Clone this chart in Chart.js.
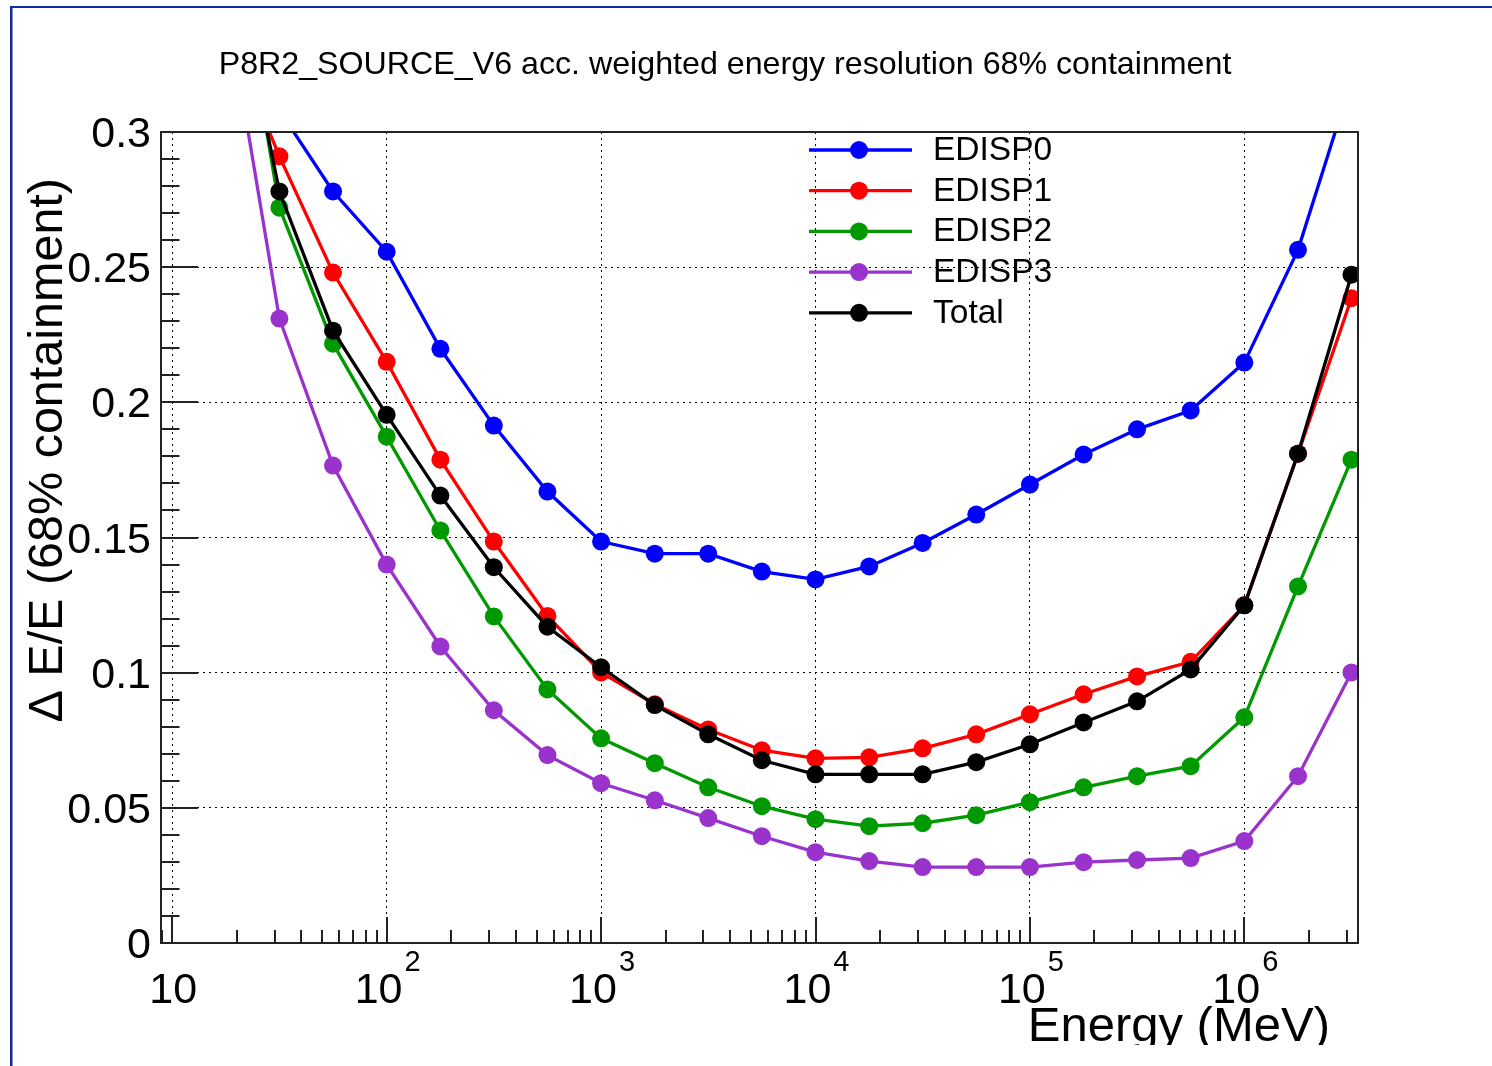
<!DOCTYPE html>
<html><head><meta charset="utf-8">
<script src="https://cdn.jsdelivr.net/npm/chart.js@4/dist/chart.umd.min.js"></script>
<style>html,body{margin:0;padding:0;background:#fff;overflow:hidden}canvas{display:block}</style>
</head><body>
<canvas id="c" width="1492" height="1066"></canvas>
<script>
const chartTitle = "P8R2_SOURCE_V6 acc. weighted energy resolution 68% containment";
const xTitle = "Energy (MeV)";
const yTitle = "\u0394 E/E (68% containment)";

const energies = [17.8, 31.6, 56.2, 100, 178, 316, 562, 1000, 1780, 3160, 5620, 10000,
                  17800, 31600, 56200, 100000, 178000, 316000, 562000, 1000000, 1780000, 3160000];

const seriesNames = ["EDISP0", "EDISP1", "EDISP2", "EDISP3", "Total"];
const edisp0 = [0.36, 0.308, 0.278, 0.2557, 0.2198, 0.1914, 0.167, 0.1485, 0.144, 0.144, 0.1374, 0.1345,
                0.1393, 0.148, 0.1585, 0.1696, 0.1807, 0.190, 0.197, 0.2147, 0.2564, 0.319];
const edisp1 = [0.339, 0.291, 0.248, 0.215, 0.1788, 0.1485, 0.121, 0.1001, 0.0883, 0.079, 0.0713, 0.0683,
                0.0687, 0.072, 0.0772, 0.0846, 0.092, 0.0986, 0.104, 0.1249, 0.181, 0.2385];
const edisp2 = [0.39, 0.272, 0.2217, 0.1873, 0.1526, 0.1208, 0.0938, 0.0757, 0.0665, 0.0576, 0.0506, 0.0458,
                0.0432, 0.0443, 0.0473, 0.0521, 0.0576, 0.0617, 0.0654, 0.0835, 0.1319, 0.1788];
const edisp3 = [0.349, 0.231, 0.1766, 0.140, 0.1097, 0.0861, 0.0695, 0.0591, 0.0528, 0.0462, 0.0395, 0.0336,
                0.0303, 0.0281, 0.0281, 0.0281, 0.0299, 0.0307, 0.0314, 0.0377, 0.0617, 0.1001];
const total  = [0.375, 0.278, 0.2265, 0.1954, 0.1655, 0.139, 0.117, 0.102, 0.088, 0.0772, 0.0676, 0.0624,
                0.0624, 0.0624, 0.0669, 0.0735, 0.0816, 0.0894, 0.1012, 0.1249, 0.181, 0.2472];

const xMajorTicks = [10, 100, 1000, 10000, 100000, 1000000];
const xTickBase = ["10", "10", "10", "10", "10", "10"];
const xTickExp = ["", "2", "3", "4", "5", "6"];
const yTicks = [0, 0.05, 0.1, 0.15, 0.2, 0.25, 0.3];
const yTickLabels = ["0", "0.05", "0.1", "0.15", "0.2", "0.25", "0.3"];

const xMin = 8.86, xMax = 3.39e6, yMin = 0, yMax = 0.3;

const colors = ["#0000ff", "#ff0000", "#009900", "#9933cc", "#000000"];
const drawOrder = [4, 3, 2, 1, 0];
const FONT = "'Liberation Sans', Arial, Helvetica, sans-serif";

const seriesData = [edisp0, edisp1, edisp2, edisp3, total];
const datasets = seriesData.map((vals, i) => ({
  label: seriesNames[i],
  data: energies.map((e, k) => ({x: e, y: vals[k]})),
  borderColor: colors[i],
  backgroundColor: colors[i],
  borderWidth: 3.3,
  pointRadius: 9,
  pointBorderWidth: 0,
  pointBackgroundColor: colors[i],
  pointStyle: 'circle',
  tension: 0,
  clip: 0,
  order: drawOrder[i]
}));

const rootPlugin = {
  id: 'rootStyle',
  beforeDraw(chart) {
    const ctx = chart.ctx;
    ctx.save();
    ctx.fillStyle = '#fff';
    ctx.fillRect(0, 0, chart.width, chart.height);
    ctx.fillStyle = '#1428a0';
    ctx.fillRect(10, 6, chart.width - 10, 2);
    ctx.fillRect(10, 6, 2.5, chart.height - 6);
    ctx.restore();
  },
  afterDatasetsDraw(chart) {
    const ctx = chart.ctx;
    const a = chart.chartArea;
    const xs = chart.scales.x, ys = chart.scales.y;
    ctx.save();
    // frame
    ctx.strokeStyle = '#222';
    ctx.lineWidth = 2;
    ctx.strokeRect(a.left, a.top, a.right - a.left, a.bottom - a.top);
    // ticks
    ctx.beginPath();
    for (let e = 0; e <= 7; e++) {
      for (let m = 1; m < 10; m++) {
        const v = m * Math.pow(10, e);
        if (v < xs.min || v > xs.max) continue;
        const px = Math.round(xs.getPixelForValue(v));
        const len = m === 1 ? 26 : 13;
        ctx.moveTo(px, a.bottom); ctx.lineTo(px, a.bottom - len);
      }
    }
    for (let i = 0; i <= 30; i++) {
      const v = i * 0.01;
      const py = Math.round(ys.getPixelForValue(v));
      const len = i % 5 === 0 ? 37 : 18.5;
      ctx.moveTo(a.left, py); ctx.lineTo(a.left + len, py);
    }
    ctx.stroke();

    // x tick labels
    ctx.fillStyle = '#000';
    ctx.textBaseline = 'alphabetic';
    xMajorTicks.forEach((v, i) => {
      const px = xs.getPixelForValue(v);
      ctx.font = `43px ${FONT}`;
      const w1 = ctx.measureText(xTickBase[i]).width;
      let w2 = 0;
      if (xTickExp[i]) { ctx.font = `29px ${FONT}`; w2 = ctx.measureText(xTickExp[i]).width + 2; }
      const start = px - (w1 + w2) / 2 + 1;
      ctx.font = `43px ${FONT}`;
      ctx.textAlign = 'left';
      ctx.fillText(xTickBase[i], start, 1003);
      if (xTickExp[i]) { ctx.font = `29px ${FONT}`; ctx.fillText(xTickExp[i], start + w1 + 2, 971); }
    });
    // y tick labels
    ctx.font = `43px ${FONT}`;
    ctx.textAlign = 'right';
    yTicks.forEach((v, i) => {
      const py = ys.getPixelForValue(v);
      ctx.fillText(yTickLabels[i], 151, py + 15);
    });

    // title
    ctx.font = `32.2px ${FONT}`;
    ctx.textAlign = 'center';
    ctx.fillText(chartTitle, 725, 74);

    // y title
    ctx.save();
    ctx.translate(62, 178);
    ctx.rotate(-Math.PI / 2);
    ctx.font = `48.5px ${FONT}`;
    ctx.textAlign = 'right';
    ctx.fillText(yTitle, 0, 0);
    ctx.restore();

    // x title (clipped at bottom like the reference)
    ctx.save();
    ctx.beginPath(); ctx.rect(0, 0, chart.width, 1045); ctx.clip();
    ctx.font = `49px ${FONT}`;
    ctx.textAlign = 'right';
    ctx.fillText(xTitle, 1330, 1041);
    ctx.restore();

    // legend
    chart.data.datasets.forEach((ds, i) => {
      const ry = 150 + i * 40.7;
      ctx.strokeStyle = ds.borderColor;
      ctx.lineWidth = 3.3;
      ctx.beginPath(); ctx.moveTo(809, ry); ctx.lineTo(912, ry); ctx.stroke();
      ctx.fillStyle = ds.borderColor;
      ctx.beginPath(); ctx.arc(859, ry, 9, 0, Math.PI * 2); ctx.fill();
      ctx.fillStyle = '#000';
      ctx.font = `33.5px ${FONT}`;
      ctx.textAlign = 'left';
      ctx.fillText(ds.label, 933, ry + 10);
    });
    ctx.restore();
  }
};

new Chart(document.getElementById('c'), {
  type: 'line',
  data: { datasets },
  plugins: [rootPlugin],
  options: {
    responsive: false,
    animation: false,
    devicePixelRatio: 1,
    layout: { padding: { left: 161, right: 134, top: 132, bottom: 123 } },
    plugins: { legend: { display: false }, title: { display: false }, tooltip: { enabled: false } },
    events: [],
    scales: {
      x: {
        type: 'logarithmic', min: xMin, max: xMax,
        afterBuildTicks: (s) => { s.ticks = xMajorTicks.map(v => ({ value: v })); },
        ticks: { display: false },
        grid: { color: '#000', lineWidth: 1, drawTicks: false },
        border: { display: false, dash: [2, 4] }
      },
      y: {
        type: 'linear', min: yMin, max: yMax,
        afterBuildTicks: (s) => { s.ticks = yTicks.map(v => ({ value: v })); },
        ticks: { display: false },
        grid: { color: '#000', lineWidth: 1, drawTicks: false },
        border: { display: false, dash: [2, 4] }
      }
    }
  }
});
</script>
</body></html>
